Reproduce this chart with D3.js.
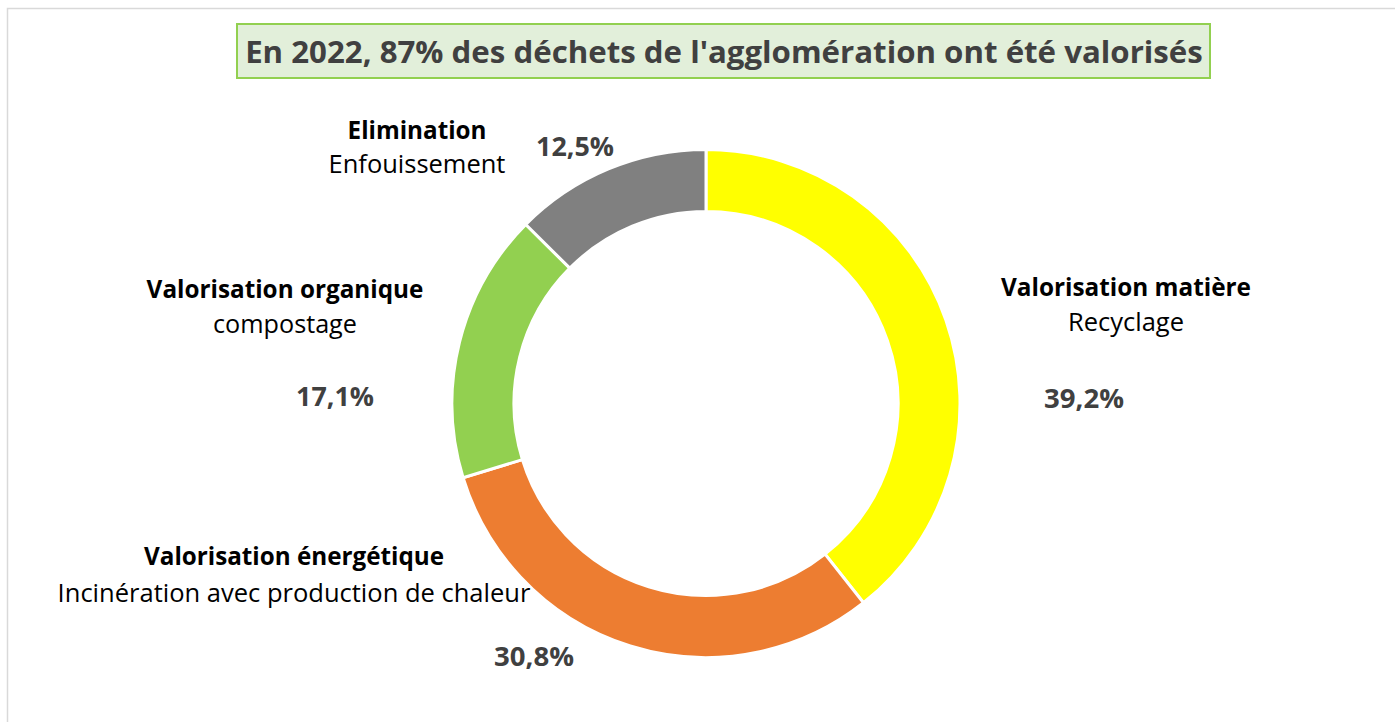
<!DOCTYPE html>
<html lang="fr">
<head>
<meta charset="UTF-8">
<title>Déchets de l'agglomération 2022</title>
<script src="https://d3js.org/d3.v7.min.js"></script>
<style>
    body { margin: 0; background: #fff; font-family: "Open Sans", sans-serif; }
    svg { display: block; }
</style>
</head>
<body>
<svg width="1395" height="722"></svg>
<script>
// data
const categories = ["Valorisation matière", "Valorisation énergétique", "Valorisation organique", "Elimination"];
const subLabels = ["Recyclage", "Incinération avec production de chaleur", "compostage", "Enfouissement"];
const shares = [39.2, 30.8, 17.1, 12.5];
const shareLabels = ["39,2%", "30,8%", "17,1%", "12,5%"];
const colors = ["#ffff00", "#ed7d31", "#92d050", "#808080"];
const title = "En 2022, 87% des déchets de l'agglomération ont été valorisés";

const svg = d3.select("svg");
const cx = 706, cy = 403.5;
const outerR = 254, innerR = 192;

// chart frame (right/bottom edges fall outside the picture)
svg.append("rect")
    .attr("x", 7.5).attr("y", 8.5)
    .attr("width", 1420).attr("height", 740)
    .attr("fill", "none")
    .attr("stroke", "#d9d9d9")
    .attr("stroke-width", 1.5);

// make a text fit a given width by tuning its font-size
function fit(sel, w) {
    const len = sel.node().getComputedTextLength();
    const fs = parseFloat(sel.style("font-size"));
    sel.style("font-size", (fs * w / len) + "px");
}

// title box
svg.append("rect")
    .attr("x", 237).attr("y", 24)
    .attr("width", 973).attr("height", 54)
    .attr("fill", "#e2efda")
    .attr("stroke", "#92d050")
    .attr("stroke-width", 2);

const t = svg.append("text")
    .attr("x", 724).attr("y", 63)
    .attr("text-anchor", "middle")
    .attr("fill", "#404040")
    .style("font-weight", "bold")
    .style("font-size", "28px")
    .text(title);
fit(t, 958);

// donut
const pie = d3.pie().sort(null).value(d => d);
const arc = d3.arc().innerRadius(innerR).outerRadius(outerR);

const g = svg.append("g").attr("transform", `translate(${cx},${cy})`);
g.selectAll("path")
    .data(pie(shares))
    .join("path")
    .attr("d", arc)
    .attr("fill", (d, i) => colors[i])
    .attr("stroke", "#fff")
    .attr("stroke-width", 3);

// label placement (relative to donut centre), set by hand like in the original
const labelPos = [
    { x: 420, name: -108, sub: -73, pct: 4, pctX: 378, w: [250, 116, 80] },
    { x: -412, name: 161, sub: 198, pct: 262, pctX: -172, w: [300, 473, 80] },
    { x: -421, name: -106, sub: -71, pct: 2, pctX: -371, w: [277, 144, 78] },
    { x: -289, name: -265, sub: -231, pct: -248, pctX: -131, w: [139, 177, 78] }
];

const lab = svg.append("g").attr("transform", `translate(${cx},${cy})`);
categories.forEach((c, i) => {
    const p = labelPos[i];
    const a = lab.append("text")
        .attr("x", p.x).attr("y", p.name)
        .attr("text-anchor", "middle")
        .attr("fill", "#000")
        .style("font-weight", "bold")
        .style("font-size", "20px")
        .text(c);
    fit(a, p.w[0]);
    const b = lab.append("text")
        .attr("x", p.x).attr("y", p.sub)
        .attr("text-anchor", "middle")
        .attr("fill", "#000")
        .style("font-size", "20px")
        .text(subLabels[i]);
    fit(b, p.w[1]);
    const v = lab.append("text")
        .attr("x", p.pctX).attr("y", p.pct)
        .attr("text-anchor", "middle")
        .attr("fill", "#404040")
        .style("font-weight", "bold")
        .style("font-size", "22px")
        .text(shareLabels[i]);
    fit(v, p.w[2]);
});
</script>
</body>
</html>
